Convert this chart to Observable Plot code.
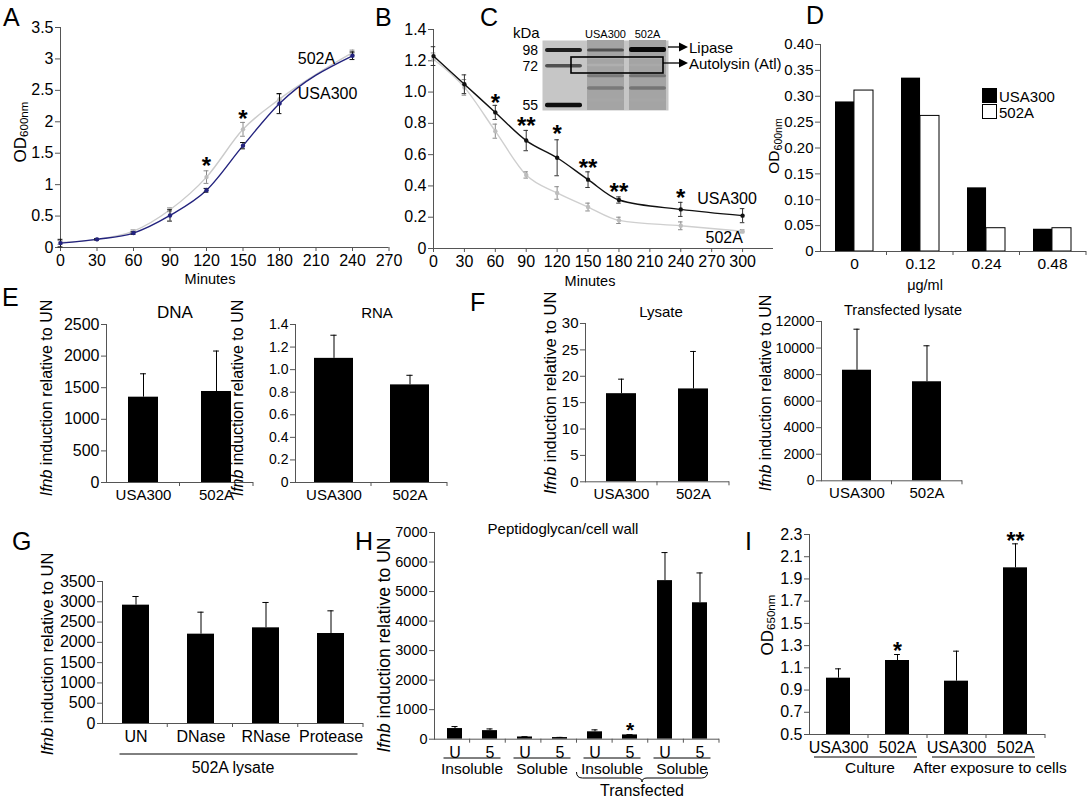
<!DOCTYPE html>
<html>
<head>
<meta charset="utf-8">
<script src="https://cdn.jsdelivr.net/npm/d3@7"></script>
<script src="https://cdn.jsdelivr.net/npm/@observablehq/plot@0.6"></script>
<style>
  body { margin: 0; background: #fff; }
  #fig { position: relative; width: 1092px; height: 800px; overflow: hidden; background: #fff;
         font-family: "Liberation Sans", Arial, Helvetica, sans-serif; color: #000; }
  .panel { position: absolute; }
  .t { position: absolute; white-space: nowrap; line-height: 1; }
  .t sub { font-size: 0.68em; vertical-align: -0.25em; line-height: 0; }
</style>
</head>
<body>
<div id="fig"></div>
<script>
// ================= DATA =================
// Panel A – growth curve (OD600nm vs minutes)
const aMinutes = [0, 30, 60, 90, 120, 150, 180, 240];
const aUSA300 = [0.07, 0.13, 0.23, 0.51, 0.91, 1.62, 2.29, 3.05];
const aUSA300Err = [0.06, 0.01, 0.02, 0.09, 0.03, 0.05, 0.16, 0.06];
const a502A = [0.08, 0.13, 0.26, 0.60, 1.12, 1.88, 2.36, 3.10];
const a502AErr = [0.03, 0.01, 0.02, 0.03, 0.10, 0.11, 0.08, 0.04];
const aXTicks = [0, 30, 60, 90, 120, 150, 180, 210, 240, 270];
const aYTicks = [0, 0.5, 1, 1.5, 2, 2.5, 3, 3.5];
const aStarMinutes = [120, 150];
const aStarY = [1.38, 2.13];
const aStarText = ["*", "*"];

// Panel B – autolysis (OD600nm vs minutes)
const bMinutes = [0, 30, 60, 90, 120, 150, 180, 240, 300];
const bUSA300 = [1.23, 1.05, 0.87, 0.69, 0.58, 0.44, 0.31, 0.25, 0.21];
const bUSA300Err = [0.06, 0.06, 0.045, 0.065, 0.115, 0.05, 0.02, 0.045, 0.045];
const b502A = [1.21, 1.03, 0.75, 0.47, 0.355, 0.265, 0.18, 0.145, 0.11];
const b502AErr = [0.04, 0.05, 0.045, 0.02, 0.04, 0.025, 0.02, 0.025, 0.01];
const bXTicks = [0, 30, 60, 90, 120, 150, 180, 210, 240, 270, 300];
const bYTicks = [0, 0.2, 0.4, 0.6, 0.8, 1.0, 1.2, 1.4];
const bStarMinutes = [60, 90, 120, 150, 180, 240];
const bStarY = [0.965, 0.82, 0.77, 0.55, 0.40, 0.36];
const bStarText = ["*", "**", "*", "**", "**", "*"];

// Panel C – gel (lane, position in gel, thickness, darkness)
const gelLanes = ["ladder", "USA300", "502A"];
const gelBandLane = ["ladder", "ladder", "ladder",
  "USA300", "USA300", "USA300", "USA300", "USA300", "USA300",
  "502A", "502A", "502A", "502A", "502A", "502A"];
const gelBandPos = [10, 25.7, 65,  10, 18, 25, 35.7, 48, 60,  9.5, 18, 25, 35.7, 48, 60];
const gelBandSize = [4, 3.5, 4.5,  3, 2, 2.5, 3, 3.5, 3,  5, 2, 2.5, 3, 3.5, 3];
const gelBandDark = [0.9, 0.75, 0.95,  0.75, 0.42, 0.42, 0.6, 0.6, 0.45,  0.97, 0.42, 0.44, 0.62, 0.62, 0.45];
const gelMarkers = ["98", "72", "55"];
const gelMarkerPos = [10, 25.7, 65];

// Panel D – OD600nm vs µg/ml
const dDoses = ["0", "0.12", "0.24", "0.48"];
const dUSA300 = [0.289, 0.335, 0.123, 0.043];
const d502A = [0.311, 0.262, 0.045, 0.045];
const dYTicks = [0, 0.05, 0.10, 0.15, 0.20, 0.25, 0.30, 0.35, 0.40];

// Panel E
const eStrains = ["USA300", "502A"];
const eDNA = [1350, 1440];
const eDNAErr = [370, 640];
const eDNATicks = [0, 500, 1000, 1500, 2000, 2500];
const eRNA = [1.10, 0.865];
const eRNAErr = [0.205, 0.085];
const eRNATicks = [0, 0.2, 0.4, 0.6, 0.8, 1.0, 1.2, 1.4];

// Panel F
const fLysate = [16.7, 17.6];
const fLysateErr = [2.75, 7.1];
const fLysateTicks = [0, 5, 10, 15, 20, 25, 30];
const fTrans = [8330, 7460];
const fTransErr = [3090, 2710];
const fTransTicks = [0, 2000, 4000, 6000, 8000, 10000, 12000];

// Panel G
const gTreat = ["UN", "DNase", "RNase", "Protease"];
const gValues = [2917, 2202, 2358, 2218];
const gErr = [213, 542, 625, 559];
const gTicks = [0, 500, 1000, 1500, 2000, 2500, 3000, 3500];

// Panel H
const hLabels = ["U", "5", "U", "5", "U", "5", "U", "5"];
const hGroups = ["Insoluble", "Soluble", "Insoluble", "Soluble"];
const hValues = [360, 290, 75, 55, 250, 145, 5370, 4620];
const hErr = [68, 58, 10, 6, 66, 10, 950, 1010];
const hTicks = [0, 1000, 2000, 3000, 4000, 5000, 6000, 7000];
const hStarIndex = [5];
const hStarY = [400];

// Panel I
const iLabels = ["USA300", "502A", "USA300", "502A"];
const iGroups = ["Culture", "After exposure to cells"];
const iValues = [1.007, 1.166, 0.98, 2.0];
const iErr = [0.084, 0.054, 0.27, 0.216];
const iTicks = [0.5, 0.7, 0.9, 1.1, 1.3, 1.5, 1.7, 1.9, 2.1, 2.3];
const iStarIndex = [1, 3];
const iStarY = [1.30, 2.29];
const iStarText = ["*", "**"];

// ================= HELPERS =================
const FONT = '"Liberation Sans", Arial, Helvetica, sans-serif';
const AX = "#555";
const fig = document.getElementById("fig");

function txt(html, x, y, o = {}) {
  const d = document.createElement("div");
  d.className = "t";
  d.innerHTML = html;
  d.style.left = x + "px";
  d.style.top = y + "px";
  d.style.fontSize = (o.size || 14) + "px";
  if (o.weight) d.style.fontWeight = o.weight;
  const tx = o.anchor === "start" ? "0" : o.anchor === "end" ? "-100%" : "-50%";
  d.style.transform = `translate(${tx},-50%)` + (o.rotate ? ` rotate(${o.rotate}deg)` : "");
  fig.appendChild(d);
  return d;
}
const IFNB = "<i>Ifnb</i> induction relative to UN";

// frame: [x0, y0, x1, y1] in page px; m: [top, right, bottom, left]
function makePlot(frame, m, opts, font) {
  const W = frame[2] - frame[0], H = frame[3] - frame[1];
  const plot = Plot.plot({
    width: W + m[1] + m[3], height: H + m[0] + m[2],
    marginTop: m[0], marginRight: m[1], marginBottom: m[2], marginLeft: m[3],
    style: { fontFamily: FONT, fontSize: (font || 14) + "px", background: "none",
             overflow: "visible", maxWidth: "none", color: "#000" },
    ...opts
  });
  const div = document.createElement("div");
  div.className = "panel";
  div.style.left = (frame[0] - m[3]) + "px";
  div.style.top = (frame[1] - m[0]) + "px";
  div.appendChild(plot);
  fig.appendChild(div);
  plot._left = frame[0] - m[3];
  plot._top = frame[1] - m[0];
  return plot;
}

function lineRows(xs, ys, es) { return xs.map((t, i) => ({ t, v: ys[i], e: es[i] })); }

function curvePanel(cfg) {
  const { frame, xDomain, yDomain, xTicks, yTicks, yFmt, series, stars, font, notes } = cfg;
  const marks = [
    Plot.ruleY([yDomain[0]], { stroke: AX }),
    Plot.ruleX([xDomain[0]], { stroke: AX }),
    Plot.axisY({ ticks: yTicks, tickFormat: yFmt, tickSize: 5, tickPadding: 2, label: null, stroke: AX, fontSize: font }),
    Plot.axisX({ ticks: xTicks, tickFormat: d => String(d), tickSize: 4, tickPadding: 3, label: null, stroke: AX, fontSize: font })
  ];
  for (const s of series) {
    marks.push(Plot.line(s.rows, { x: "t", y: "v", stroke: s.color, strokeWidth: 1.4, curve: "monotone-x" }));
    marks.push(Plot.ruleX(s.rows, { x: "t", y1: d => d.v - d.e, y2: d => d.v + d.e, stroke: s.err, strokeWidth: 1 }));
    marks.push(Plot.ruleY(s.rows, { y: d => d.v + d.e, x1: d => d.t - s.cap, x2: d => d.t + s.cap, stroke: s.err }));
    marks.push(Plot.ruleY(s.rows, { y: d => d.v - d.e, x1: d => d.t - s.cap, x2: d => d.t + s.cap, stroke: s.err }));
    marks.push(Plot.dot(s.rows, { x: "t", y: "v", r: 2.2, fill: s.dot, stroke: "none" }));
  }
  marks.push(Plot.text(stars, { x: "t", y: "y", text: "s", fontSize: 24, fontWeight: "bold", dy: 6 }));
  marks.push(Plot.text(notes, { x: "t", y: "y", text: "s", fontSize: 16, textAnchor: "start" }));
  return makePlot(frame, [10, 12, 40, 50], {
    x: { domain: xDomain, inset: 0 }, y: { domain: yDomain, inset: 0 }, marks
  }, font);
}

function barPanel(cfg) {
  const { frame, cats, labels, values, errs, yDomain, yTicks, yFmt, pad, font, xfont, stars, starSize, starDy } = cfg;
  const n = cats.length;
  const W = frame[2] - frame[0];
  const step = W / n, bw = step * (1 - pad);
  const cap = 3;
  const rows = cats.map((c, i) => ({ c, v: values[i], e: errs[i] }));
  const marks = [
    Plot.barY(rows, { x: "c", y1: yDomain[0], y2: "v", fill: "black" }),
    Plot.ruleX(rows, { x: "c", y1: "v", y2: d => d.v + d.e, stroke: "black", strokeWidth: 1 }),
    Plot.tickY(rows, { x: "c", y: d => d.v + d.e, stroke: "black", insetLeft: bw / 2 - cap, insetRight: bw / 2 - cap }),
    Plot.ruleY([yDomain[0]], { stroke: AX }),
    Plot.frame({ anchor: "left", stroke: AX }),
    Plot.axisY({ ticks: yTicks, tickFormat: yFmt, tickSize: 5, tickPadding: 2, label: null, stroke: AX, fontSize: font }),
    Plot.axisX({ tickSize: 0, tickPadding: 7, label: null, fontSize: xfont || font, tickFormat: d => labels[cats.indexOf(d)] })
  ];
  if (stars) marks.push(Plot.text(stars, { x: "c", y: "y", text: "s", fontSize: starSize || 23, fontWeight: "bold", dy: starDy == null ? 6 : starDy }));
  const plot = makePlot(frame, [14, 14, 40, 60], {
    x: { type: "band", domain: cats, paddingInner: pad, paddingOuter: pad / 2, align: 0.5 },
    y: { domain: yDomain, inset: 0 },
    marks
  }, font);
  // small tick marks on the category axis between categories
  const g = d3.select(plot).append("g").attr("stroke", AX);
  const H = frame[3] - frame[1];
  for (let k = 1; k <= n; k++) {
    const x = 60 + k * step;
    g.append("line").attr("x1", x).attr("x2", x).attr("y1", 14 + H).attr("y2", 14 + H + 4);
  }
  return plot;
}

function bandCenter(plot, c) {
  const sx = plot.scale("x");
  return plot._left + sx.apply(c) + sx.bandwidth / 2;
}

// ================= PANEL A =================
const pA = curvePanel({
  frame: [59.5, 27, 388, 247], xDomain: [0, 270], yDomain: [0, 3.5],
  xTicks: aXTicks, yTicks: aYTicks, yFmt: d => String(d), font: 16,
  series: [
    { rows: lineRows(aMinutes, a502A, a502AErr), color: "#cbcbcb", err: "#8a8a8a", dot: "#bdbdbd", cap: 2 },
    { rows: lineRows(aMinutes, aUSA300, aUSA300Err), color: "#23237e", err: "#111", dot: "#23237e", cap: 2 }
  ],
  stars: aStarMinutes.map((t, i) => ({ t, y: aStarY[i], s: aStarText[i] })),
  notes: [{ t: 195, y: 3.0, s: "502A" }, { t: 195, y: 2.45, s: "USA300" }]
});
txt("A", 3, 17, { size: 25, anchor: "start" });
txt("OD<sub>600nm</sub>", 20, 132, { size: 17, rotate: -90 });
txt("Minutes", 210, 279, { size: 14.5 });

// ================= PANEL B =================
const pB = curvePanel({
  frame: [433, 29, 773, 248], xDomain: [0, 330], yDomain: [0, 1.4],
  xTicks: bXTicks, yTicks: bYTicks, yFmt: d => d === 0 ? "0" : d.toFixed(1), font: 16,
  series: [
    { rows: lineRows(bMinutes, b502A, b502AErr), color: "#cfcfcf", err: "#8a8a8a", dot: "#bdbdbd", cap: 2.2 },
    { rows: lineRows(bMinutes, bUSA300, bUSA300Err), color: "#111", err: "#333", dot: "#111", cap: 2.2 }
  ],
  stars: bStarMinutes.map((t, i) => ({ t, y: bStarY[i], s: bStarText[i] })),
  notes: [{ t: 256, y: 0.32, s: "USA300" }, { t: 264, y: 0.07, s: "502A" }]
});
txt("B", 375, 17, { size: 25, anchor: "start" });
txt("Minutes", 590, 281, { size: 14.5 });

// ================= PANEL C (gel) =================
const gelRows = gelBandLane.map((lane, i) => ({
  lane, y1: gelBandPos[i] - gelBandSize[i] / 2, y2: gelBandPos[i] + gelBandSize[i] / 2,
  col: d3.interpolateGreys(gelBandDark[i])
}));
const pC = makePlot([542, 40, 668, 110], [0, 0, 0, 0], {
  x: { type: "band", domain: gelLanes, paddingInner: 0.12, paddingOuter: 0.05, axis: null },
  y: { domain: [0, 70], reverse: true, axis: null },
  color: { type: "identity" },
  marks: [
    Plot.frame({ fill: "#c6c6c6", stroke: "none" }),
    Plot.barY(gelLanes.slice(1), { x: d => d, y1: 0, y2: 70, fill: "#a4a4a4" }),
    Plot.barY(gelRows, { x: "lane", y1: "y1", y2: "y2", fill: "col", rx: 2 })
  ]
}, 12);
pC.style.filter = "blur(0.6px)";
txt("C", 480, 17, { size: 25, anchor: "start" });
txt("kDa", 513, 32, { size: 15, anchor: "start" });
gelMarkers.forEach((m, i) => txt(m, 538, 40 + gelMarkerPos[i], { size: 14, anchor: "end" }));
txt("USA300", bandCenter(pC, "USA300"), 34, { size: 11 });
txt("502A", bandCenter(pC, "502A"), 34, { size: 11 });
txt("Lipase", 689, 47, { size: 15, anchor: "start" });
txt("Autolysin (Atl)", 689, 63, { size: 15, anchor: "start" });

// ================= PANEL D =================
{
  const frame = [820, 44, 1086, 251];
  const pad = 0.43;
  const step = (frame[2] - frame[0]) / dDoses.length, half = step * (1 - pad) / 2;
  const rows = dDoses.map((c, i) => ({ c, u: dUSA300[i], b: d502A[i] }));
  const pD = makePlot(frame, [14, 10, 40, 60], {
    x: { type: "band", domain: dDoses, paddingInner: pad, paddingOuter: pad / 2, align: 0.5 },
    y: { domain: [0, 0.4], inset: 0 },
    marks: [
      Plot.barY(rows, { x: "c", y: "u", fill: "black", insetRight: half }),
      Plot.barY(rows, { x: "c", y: "b", fill: "white", stroke: "black", strokeWidth: 1, insetLeft: half }),
      Plot.ruleY([0], { stroke: AX }),
      Plot.frame({ anchor: "left", stroke: AX }),
      Plot.axisY({ ticks: dYTicks, tickFormat: d => d === 0 ? "0" : d.toFixed(2), tickSize: 5, tickPadding: 2, label: null, stroke: AX, fontSize: 15 }),
      Plot.axisX({ tickSize: 0, tickPadding: 6, label: null, fontSize: 15.5 })
    ]
  }, 15);
  const g = d3.select(pD).append("g").attr("stroke", AX);
  for (let k = 1; k <= dDoses.length; k++) {
    const x = 60 + k * step;
    g.append("line").attr("x1", x).attr("x2", x).attr("y1", 14 + 207).attr("y2", 14 + 211);
  }
  txt("D", 806, 15, { size: 25, anchor: "start" });
  txt("OD<sub>600nm</sub>", 774, 146, { size: 15.5, rotate: -90 });
  txt("μg/ml", 925, 285, { size: 14.5 });
  // legend
  const lg = document.createElement("div");
  lg.style.cssText = "position:absolute;left:982px;top:88px;width:15px;height:15px;background:#000;";
  fig.appendChild(lg);
  const lw = document.createElement("div");
  lw.style.cssText = "position:absolute;left:982px;top:104px;width:13px;height:13px;background:#fff;border:1px solid #000;";
  fig.appendChild(lw);
  txt("USA300", 999, 96, { size: 15, anchor: "start" });
  txt("502A", 999, 112, { size: 15, anchor: "start" });
}

// ================= PANEL E =================
barPanel({ frame: [106, 324, 253, 482], cats: eStrains, labels: eStrains, values: eDNA, errs: eDNAErr,
  yDomain: [0, 2500], yTicks: eDNATicks, yFmt: d => String(d), pad: 0.59, font: 16, xfont: 15 });
barPanel({ frame: [295, 324, 447, 482], cats: eStrains, labels: eStrains, values: eRNA, errs: eRNAErr,
  yDomain: [0, 1.4], yTicks: eRNATicks, yFmt: d => d === 0 ? "0" : d.toFixed(1), pad: 0.49, font: 14, xfont: 15 });
txt("E", 2, 297, { size: 25, anchor: "start" });
txt("DNA", 175, 312, { size: 17 });
txt("RNA", 377, 312, { size: 15 });
txt(IFNB, 47, 398, { size: 16, rotate: -90 });
txt(IFNB, 238, 398, { size: 16, rotate: -90 });

// ================= PANEL F =================
barPanel({ frame: [585, 322.7, 729, 481], cats: eStrains, labels: eStrains, values: fLysate, errs: fLysateErr,
  yDomain: [0, 30], yTicks: fLysateTicks, yFmt: d => String(d), pad: 0.58, font: 15 });
barPanel({ frame: [821, 320.7, 962, 480], cats: eStrains, labels: eStrains, values: fTrans, errs: fTransErr,
  yDomain: [0, 12000], yTicks: fTransTicks, yFmt: d => String(d), pad: 0.59, font: 14, xfont: 15 });
txt("F", 470, 302, { size: 25, anchor: "start" });
txt("Lysate", 661, 311, { size: 15 });
txt("Transfected lysate", 903, 310, { size: 14.5 });
txt(IFNB, 550, 393, { size: 16.5, rotate: -90 });
txt(IFNB, 766, 393, { size: 16, rotate: -90 });

// ================= PANEL G =================
const pG = barPanel({ frame: [102, 580.7, 363, 722.7], cats: gTreat, labels: gTreat, values: gValues, errs: gErr,
  yDomain: [0, 3500], yTicks: gTicks, yFmt: d => String(d), pad: 0.59, font: 16 });
txt("G", 12, 541, { size: 25, anchor: "start" });
txt(IFNB, 47, 654, { size: 16.5, rotate: -90 });

// ================= PANEL H =================
const hIdx = hLabels.map((_, i) => i);
const pH = barPanel({ frame: [434, 532, 719, 738.7], cats: hIdx, labels: hLabels, values: hValues, errs: hErr,
  yDomain: [0, 7000], yTicks: hTicks, yFmt: d => String(d), pad: 0.58, font: 14.5, xfont: 16,
  stars: hStarIndex.map((c, i) => ({ c, y: hStarY[i], s: "*" })), starSize: 21, starDy: 3 });
txt("H", 355, 541, { size: 25, anchor: "start" });
txt("Peptidoglycan/cell wall", 563, 528, { size: 15 });
txt(IFNB, 385, 645, { size: 17.5, rotate: -90 });

// ================= PANEL I =================
const iIdx = iLabels.map((_, i) => i);
const pI = barPanel({ frame: [809, 534, 1045, 734], cats: iIdx, labels: iLabels, values: iValues, errs: iErr,
  yDomain: [0.5, 2.3], yTicks: iTicks, yFmt: d => d.toFixed(1), pad: 0.59, font: 16,
  stars: iStarIndex.map((c, i) => ({ c, y: iStarY[i], s: iStarText[i] })) });
txt("I", 745, 541, { size: 25, anchor: "start" });
txt("OD<sub>650nm</sub>", 767, 625, { size: 17, rotate: -90 });

// ================= OVERLAY (annotation lines) =================
const ov = d3.select(fig).append("svg")
  .attr("width", 1092).attr("height", 800)
  .style("position", "absolute").style("left", "0px").style("top", "0px")
  .style("pointer-events", "none");

// gel box + arrows
ov.append("rect").attr("x", 571).attr("y", 57).attr("width", 92).attr("height", 16)
  .attr("fill", "none").attr("stroke", "#000").attr("stroke-width", 1.6);
for (const y of [47, 63]) {
  ov.append("line").attr("x1", y === 47 ? 668 : 663).attr("x2", 680).attr("y1", y).attr("y2", y).attr("stroke", "#000").attr("stroke-width", 1.3);
  ov.append("path").attr("d", `M679,${y - 4.5}L688,${y}L679,${y + 4.5}Z`).attr("fill", "#000");
}

// G
{
  const x1 = bandCenter(pG, "UN") - 16, x2 = bandCenter(pG, "Protease") + 27;
  ov.append("line").attr("x1", x1).attr("x2", x2).attr("y1", 754).attr("y2", 754).attr("stroke", "#000");
  txt("502A lysate", (bandCenter(pG, "DNase") + bandCenter(pG, "RNase")) / 2, 768, { size: 16 });
}
// H
hGroups.forEach((gname, k) => {
  const a = 2 * k, b = 2 * k + 1;
  const x1 = bandCenter(pH, a) - 11, x2 = bandCenter(pH, b) + 11;
  ov.append("line").attr("x1", x1).attr("x2", x2).attr("y1", 758).attr("y2", 758).attr("stroke", "#000");
  txt(gname, (x1 + x2) / 2, 769, { size: 15.5 });
});
{
  const xa = bandCenter(pH, 4) - 18, xb = bandCenter(pH, 7) + 8;
  const xm = (xa + xb) / 2;
  ov.append("path")
    .attr("d", `M${xa},772 Q${xa},778 ${xa + 6},778 L${xm - 5},778 Q${xm},778 ${xm},782 Q${xm},778 ${xm + 5},778 L${xb - 6},778 Q${xb},778 ${xb},772`)
    .attr("fill", "none").attr("stroke", "#000").attr("stroke-width", 1);
  txt("Transfected", xm, 791, { size: 16 });
}
// I
iGroups.forEach((gname, k) => {
  const a = 2 * k, b = 2 * k + 1;
  const x1 = bandCenter(pI, a) - 24, x2 = bandCenter(pI, b) + 20;
  ov.append("line").attr("x1", x1).attr("x2", x2).attr("y1", 757).attr("y2", 757).attr("stroke", "#000");
  txt(gname, k === 0 ? 870 : 990, 768, { size: 15.5 });
});
</script>
</body>
</html>
